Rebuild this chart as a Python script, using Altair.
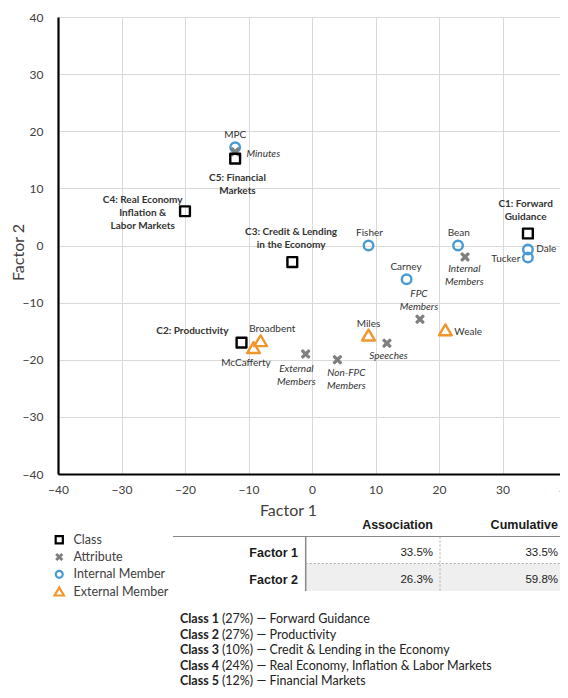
import altair as alt
import pandas as pd

# ---------------- data ----------------
class_names = ["C1: Forward\nGuidance", "C2: Productivity", "C3: Credit & Lending\nin the Economy",
               "C4: Real Economy\nInflation &\nLabor Markets", "C5: Financial\nMarkets"]
class_x = [34.0, -11.1, -3.1, -20.0, -12.1]
class_y = [2.1, -17.0, -2.9, 6.0, 15.2]

attr_names = ["Minutes", "Internal\nMembers", "FPC\nMembers", "Speeches", "Non-FPC\nMembers", "External\nMembers"]
attr_x = [-12.1, 24.1, 17.0, 11.8, 4.0, -1.0]
attr_y = [16.4, -2.0, -12.9, -17.1, -20.0, -19.0]

internal_names = ["MPC", "Fisher", "Carney", "Bean", "Dale", "Tucker"]
internal_x = [-12.1, 8.9, 14.9, 23.0, 34.0, 34.0]
internal_y = [17.2, 0.0, -5.9, 0.0, -0.7, -2.1]

external_names = ["Broadbent", "McCafferty", "Miles", "Weale"]
external_x = [-8.1, -9.2, 8.9, 21.0]
external_y = [-16.7, -17.9, -15.7, -14.8]

x_ticks = [-40, -30, -20, -10, 0, 10, 20, 30, 40]
y_ticks = [-40, -30, -20, -10, 0, 10, 20, 30, 40]

table_headers = ["Association", "Cumulative"]
table_rows = ["Factor 1", "Factor 2"]
association = ["33.5%", "26.3%"]
cumulative = ["33.5%", "59.8%"]

class_numbers = [1, 2, 3, 4, 5]
class_shares = ["27%", "27%", "10%", "24%", "12%"]
class_topics = ["Forward Guidance", "Productivity", "Credit & Lending in the Economy",
                "Real Economy, Inflation & Labor Markets", "Financial Markets"]

KINDS = ["Class", "Attribute", "Internal Member", "External Member"]

# ---------------- layout / style ----------------
W, H = 508, 457
XMIN, XMAX, YMIN, YMAX = -40, 40, -40, 40
PX = W / (XMAX - XMIN)
PY = H / (YMAX - YMIN)
FONT = "Lato"
TFONT = "Liberation Sans"
TXT = "#404040"

# symbol paths in unit coordinates (scaled by sqrt(size)/2)
SQ = "M-0.8,-0.8L0.8,-0.8L0.8,0.8L-0.8,0.8Z"
XP = ("M-0.46,-0.56L0,-0.1L0.46,-0.56L0.56,-0.46L0.1,0L0.56,0.46L0.46,0.56L0,0.1"
      "L-0.46,0.56L-0.56,0.46L-0.1,0L-0.56,-0.46Z")
CI = "M0.78,0A0.78,0.78,0,1,1,-0.78,0A0.78,0.78,0,1,1,0.78,0Z"
TR = "M0,-0.92L1.04,0.86L-1.04,0.86Z"
SHAPES = [SQ, XP, CI, TR]
COLORS = ["#000000", "#7f7f7f", "#4a9bd5", "#f0962a"]
FILLS = ["transparent", "#7f7f7f", "transparent", "transparent"]

# label placement: (align, dx px, dy px of first line)
LABEL_LAYOUT = {
    "MPC": ("center", 0, -12.4),
    "Minutes": ("left", 11.3, 2),
    "C5: Financial\nMarkets": ("center", 2.3, 19.6),
    "C4: Real Economy\nInflation &\nLabor Markets": ("center", -42.3, -11.3),
    "C3: Credit & Lending\nin the Economy": ("center", -1.2, -29.7),
    "Fisher": ("center", 1, -13),
    "Carney": ("center", -0.6, -12.3),
    "Bean": ("center", 0.7, -12.4),
    "Internal\nMembers": ("center", -0.7, 12),
    "C1: Forward\nGuidance": ("center", -2.3, -30),
    "Dale": ("left", 8.4, -0.3),
    "Tucker": ("right", -7.6, 1.7),
    "FPC\nMembers": ("center", -1, -25),
    "Weale": ("left", 9, 1.7),
    "Miles": ("center", 0, -11),
    "Speeches": ("center", 1.6, 12.7),
    "Non-FPC\nMembers": ("center", 9, 13.3),
    "External\nMembers": ("center", -9.3, 14.7),
    "C2: Productivity": ("right", -13, -11.7),
    "Broadbent": ("center", 11.7, -12),
    "McCafferty": ("center", -7.6, 15.6),
}

rows = []
for kind, names, xs, ys in [("Internal Member", internal_names, internal_x, internal_y),
                            ("External Member", external_names, external_x, external_y),
                            ("Attribute", attr_names, attr_x, attr_y),
                            ("Class", class_names, class_x, class_y)]:
    for n, xv, yv in zip(names, xs, ys):
        rows.append({"name": n, "kind": kind, "x": xv, "y": yv})
points = pd.DataFrame(rows)
points["order"] = list(range(len(points)))
points["align"] = [LABEL_LAYOUT[n][0] for n in points["name"]]
points["lx"] = [xv + LABEL_LAYOUT[n][1] / PX for n, xv in zip(points["name"], points["x"])]
points["ly"] = [yv - LABEL_LAYOUT[n][2] / PY for n, yv in zip(points["name"], points["y"])]

xscale = alt.Scale(domain=[XMIN, XMAX], nice=False, zero=False)
yscale = alt.Scale(domain=[YMIN, YMAX], nice=False, zero=False)

x_axis = alt.Axis(values=x_ticks, title="Factor 1", grid=True, gridColor="#d9d9d9", gridWidth=1,
                  ticks=False, tickSize=0, domainColor="#000000", domainWidth=2.2, labelPadding=10,
                  labelFont=FONT, labelFontSize=12, labelColor=TXT, labelFlush=False, labelOverlap=False,
                  titleFont=FONT, titleFontSize=16, titleFontWeight="normal", titleColor=TXT,
                  titleX=230, titleY=36, titleAlign="center", titleBaseline="middle")
y_axis = alt.Axis(values=y_ticks, title="Factor 2", grid=True, gridColor="#d9d9d9", gridWidth=1,
                  ticks=False, tickSize=0, domainColor="#000000", domainWidth=2.2, labelPadding=15,
                  labelFont=FONT, labelFontSize=12, labelColor=TXT, labelFlush=False, labelOverlap=False,
                  titleFont=FONT, titleFontSize=16, titleFontWeight="normal", titleColor=TXT,
                  titleX=-40, titleY=235, titleAlign="center", titleBaseline="middle", titleAngle=270)

legend = alt.Legend(title=None, orient="none", legendX=-5, legendY=516.5, symbolSize=80,
                    symbolStrokeWidth=2.2, labelFont=FONT, labelFontSize=12.5, labelColor=TXT,
                    labelOffset=8, rowPadding=-0.7, padding=0, gridAlign="all")

point_layer = alt.Chart(points).mark_point(filled=False, opacity=1, size=150, strokeWidth=2.4,
                                           strokeJoin="round").encode(
    x=alt.X("x:Q", scale=xscale, axis=x_axis),
    y=alt.Y("y:Q", scale=yscale, axis=y_axis),
    shape=alt.Shape("kind:N", scale=alt.Scale(domain=KINDS, range=SHAPES), legend=legend),
    color=alt.Color("kind:N", scale=alt.Scale(domain=KINDS, range=COLORS), legend=legend),
    fill=alt.Fill("kind:N", scale=alt.Scale(domain=KINDS, range=FILLS), legend=legend),
    order=alt.Order("order:Q"),
)

layers = [point_layer]
styles = [(["Class"], "bold", "normal"),
          (["Attribute"], "normal", "italic"),
          (["Internal Member", "External Member"], "normal", "normal")]
for kinds, weight, fstyle in styles:
    for align in ["left", "center", "right"]:
        sub = points[points["kind"].isin(kinds) & (points["align"] == align)]
        if len(sub) == 0:
            continue
        layers.append(
            alt.Chart(sub).mark_text(align=align, baseline="middle", font=FONT, fontSize=10,
                                     fontWeight=weight, fontStyle=fstyle, color="#333333",
                                     lineBreak="\n", lineHeight=13).encode(
                x=alt.X("lx:Q", scale=xscale, axis=x_axis),
                y=alt.Y("ly:Q", scale=yscale, axis=y_axis),
                text="name:N")
        )

# ---------------- table (pixel layout below plot) ----------------
COL_LABEL, COL_ASSOC, COL_CUM = 240, 375, 500
HEAD_Y, ROW_Y0, ROW_H = 508, 535.5, 27.3
T_TOP, T_MID, T_BOT = 519.5, 546.5, 574
T_LEFT, T_SPLIT, T_DASH, T_RIGHT = 115, 247.7, 382, 530

one = pd.DataFrame({"k": [0]})
layers.append(alt.Chart(one).mark_rect(color="#efefef").encode(
    x=alt.value(T_SPLIT), x2=alt.value(T_RIGHT), y=alt.value(T_MID), y2=alt.value(T_BOT)))
layers.append(alt.Chart(one).mark_rule(color="#888888", strokeWidth=1.2).encode(
    x=alt.value(T_LEFT), x2=alt.value(T_RIGHT), y=alt.value(T_TOP), y2=alt.value(T_TOP)))
layers.append(alt.Chart(one).mark_rule(color="#888888", strokeWidth=1.5).encode(
    x=alt.value(T_SPLIT), x2=alt.value(T_SPLIT), y=alt.value(T_TOP), y2=alt.value(T_BOT)))
layers.append(alt.Chart(one).mark_rule(color="#aaaaaa", strokeWidth=1, strokeDash=[2, 2]).encode(
    x=alt.value(T_SPLIT), x2=alt.value(T_RIGHT), y=alt.value(T_MID), y2=alt.value(T_MID)))
layers.append(alt.Chart(one).mark_rule(color="#aaaaaa", strokeWidth=1, strokeDash=[2, 2]).encode(
    x=alt.value(T_DASH), x2=alt.value(T_DASH), y=alt.value(T_TOP), y2=alt.value(T_BOT)))

tbl_bold = pd.DataFrame({
    "t": table_headers + table_rows,
    "px": [COL_ASSOC, COL_CUM, COL_LABEL, COL_LABEL],
    "py": [HEAD_Y, HEAD_Y, ROW_Y0, ROW_Y0 + ROW_H],
})
tbl_vals = pd.DataFrame({
    "t": association + cumulative,
    "px": [COL_ASSOC] * len(association) + [COL_CUM] * len(cumulative),
    "py": [ROW_Y0 + i * ROW_H for i in range(len(association))] * 2,
})
layers.append(alt.Chart(tbl_bold).mark_text(align="right", baseline="middle", font=TFONT, fontSize=12.5,
                                            fontWeight="bold", color="#1a1a1a").encode(
    x=alt.X("px:Q", scale=None), y=alt.Y("py:Q", scale=None), text="t:N"))
layers.append(alt.Chart(tbl_vals).mark_text(align="right", baseline="middle", font=TFONT, fontSize=11.5,
                                            color="#1a1a1a").encode(
    x=alt.X("px:Q", scale=None), y=alt.Y("py:Q", scale=None), text="t:N"))

# ---------------- class list ----------------
CL_X, CL_X2, CL_Y0, CL_H = 122, 164, 602, 15.5
cl = pd.DataFrame({
    "bold": ["Class %d" % n for n in class_numbers],
    "rest": ["(%s) \u2014 %s" % (s, t) for s, t in zip(class_shares, class_topics)],
    "py": [CL_Y0 + i * CL_H for i in range(len(class_numbers))],
})
layers.append(alt.Chart(cl).mark_text(align="left", baseline="middle", font=FONT, fontSize=12.5,
                                      fontWeight="bold", color="#222222").encode(
    x=alt.value(CL_X), y=alt.Y("py:Q", scale=None), text="bold:N"))
layers.append(alt.Chart(cl).mark_text(align="left", baseline="middle", font=FONT, fontSize=12.5,
                                      color="#222222").encode(
    x=alt.value(CL_X2), y=alt.Y("py:Q", scale=None), text="rest:N"))

chart = alt.layer(*layers).properties(
    width=W, height=H,
    autosize=alt.AutoSizeParams(type="none"),
    padding={"left": 50, "top": 9, "right": -6, "bottom": 214},
    background="white",
).configure_view(stroke=None)

chart.save("out.html", embed_options={"renderer": "svg", "actions": False})
